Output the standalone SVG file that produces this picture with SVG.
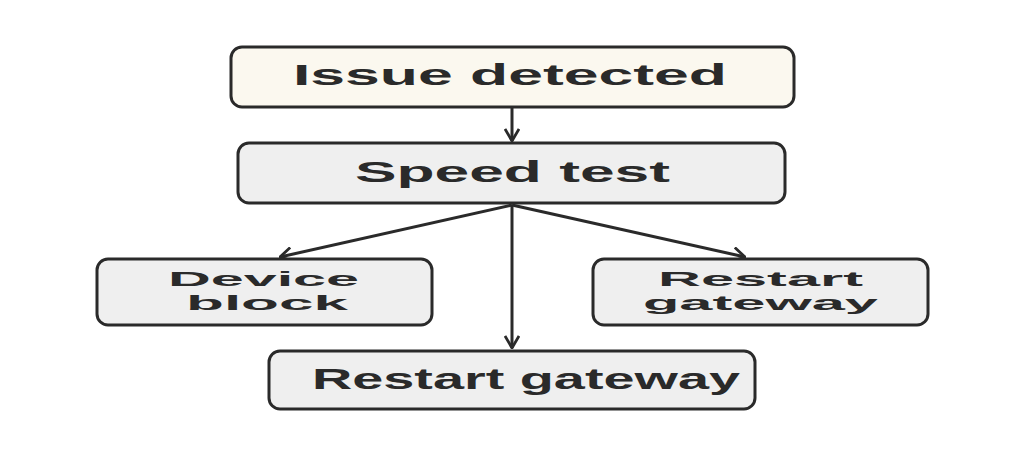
<svg xmlns="http://www.w3.org/2000/svg" width="1024" height="450" viewBox="0 0 1024 450">
<style>
.box{stroke:#2a2a2a;stroke-width:3;}
.t{font-family:"Liberation Sans",Arial,sans-serif;font-weight:bold;font-size:29px;fill:#2a2a2a;}
.s{font-size:21px;}
.c{stroke:#2a2a2a;stroke-width:3;fill:none;}
</style>
<defs>
<marker id="ah" viewBox="0 0 14 16" refX="13" refY="8" markerWidth="14" markerHeight="16" markerUnits="userSpaceOnUse" orient="auto">
<path d="M1,1 L13,8 L1,15" fill="none" stroke="#2a2a2a" stroke-width="2.8"/>
</marker>
</defs>
<rect width="1024" height="450" fill="#ffffff"/>
<g id="connectors">
<line class="c" x1="512" y1="107" x2="512" y2="141" marker-end="url(#ah)"/>
<line class="c" x1="512" y1="205" x2="280" y2="257" marker-end="url(#ah)"/>
<line class="c" x1="512" y1="205" x2="745" y2="257" marker-end="url(#ah)"/>
<line class="c" x1="512" y1="205" x2="512" y2="348" marker-end="url(#ah)"/>
</g>
<g id="issue">
<rect class="box" x="231" y="47" width="563" height="60" rx="11" fill="#fbf8ef"/>
<text class="t" x="293" y="85" textLength="434" lengthAdjust="spacingAndGlyphs">Issue detected</text>
</g>
<g id="speed">
<rect class="box" x="238" y="143" width="547" height="60" rx="11" fill="#efefef"/>
<text class="t" x="355" y="182" textLength="315" lengthAdjust="spacingAndGlyphs">Speed test</text>
</g>
<g id="device">
<rect class="box" x="97" y="259" width="335" height="66" rx="11" fill="#efefef"/>
<text class="t s" x="168" y="286" textLength="191" lengthAdjust="spacingAndGlyphs">Device</text>
<text class="t s" x="186" y="310" textLength="162" lengthAdjust="spacingAndGlyphs">block</text>
</g>
<g id="restart-right">
<rect class="box" x="593" y="259" width="335" height="66" rx="11" fill="#efefef"/>
<text class="t s" x="658" y="286" textLength="205" lengthAdjust="spacingAndGlyphs">Restart</text>
<text class="t s" x="643" y="310" textLength="235" lengthAdjust="spacingAndGlyphs">gateway</text>
</g>
<g id="restart-bottom">
<rect class="box" x="269" y="351" width="486" height="58" rx="11" fill="#efefef"/>
<text class="t" x="312" y="389" textLength="428" lengthAdjust="spacingAndGlyphs">Restart gateway</text>
</g>
</svg>
